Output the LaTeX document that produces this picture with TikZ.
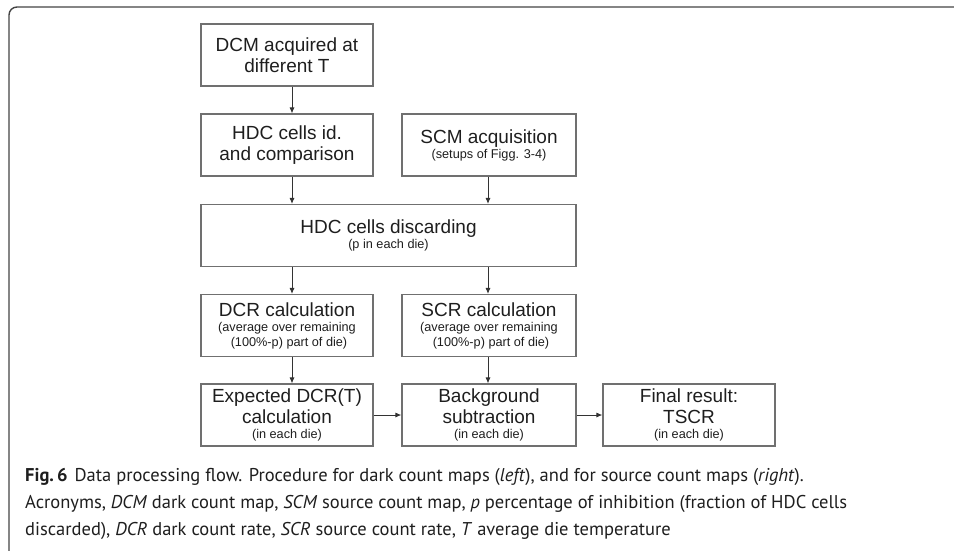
\documentclass[tikz,border=0pt]{standalone}
\usepackage{fontspec}
\setmainfont{Liberation Sans}
\newfontfamily\capfont{PT Sans}
\usetikzlibrary{arrows.meta}
\definecolor{boxgray}{HTML}{707070}
\definecolor{linegray}{HTML}{333333}
\definecolor{textgray}{HTML}{1E1E1E}
\definecolor{framegray}{HTML}{444444}
\newcommand\bigf{\fontsize{19}{22}\selectfont}
\newcommand\smallf{\fontsize{12.7}{14}\selectfont}
\tikzset{
  box/.style={draw=boxgray, line width=1.1pt, minimum width=172pt, minimum height=62pt,
    inner sep=0pt, align=center, text=textgray, font=\bigf},
  conn/.style={draw=linegray, line width=0.9pt, -{Latex[length=6pt,width=5pt]}},
  captext/.style={anchor=base west, inner sep=0pt, text=textgray, font=\capfont\fontsize{18.5}{22}\selectfont},
}
\begin{document}
\begin{tikzpicture}[x=1pt,y=-1pt]
\useasboundingbox (0,0) rectangle (954,550);
\draw[framegray, line width=1.4pt, rounded corners=8pt] (9,552) -- (9,7) -- (956,7);

\node[box] (b1) at (287,55) {DCM acquired at\\[-1pt]different T};
\node[box] (b2) at (287,145) {HDC cells id.\\[-1pt]and comparison};
\node[box, minimum width=174pt] (scm) at (489,145) {SCM acquisition\\[-7pt]{\smallf (setups of Figg. 3-4)}};
\node[box, minimum width=375pt] (disc) at (388.5,235.5) {HDC cells discarding\\[-7pt]{\smallf (p in each die)}};
\node[box] (dcr) at (287,325.5) {DCR calculation\\[-7pt]{\smallf (average over remaining}\\[-7pt]{\smallf \hspace{4pt}(100\%-p) part of die)}};
\node[box, minimum width=174pt] (scr) at (489,325.5) {SCR calculation\\[-7pt]{\smallf (average over remaining}\\[-7pt]{\smallf \hspace{4pt}(100\%-p) part of die)}};
\node[box] (exp) at (287,415) {Expected DCR(T)\\[-1pt]calculation\\[-7pt]{\smallf (in each die)}};
\node[box, minimum width=174pt] (bg) at (489,415) {Background\\[-1pt]subtraction\\[-7pt]{\smallf (in each die)}};
\node[box] (fin) at (689,415) {Final result:\\[-1pt]TSCR\\[-7pt]{\smallf (in each die)}};

\draw[conn] ([xshift=5pt]b1.south) -- ([xshift=5pt]b2.north);
\draw[conn] ([xshift=5pt]b2.south) -- ([xshift=5pt]b2.south |- disc.north);
\draw[conn] ([xshift=-1pt]scm.south) -- ([xshift=-1pt]scm.south |- disc.north);
\draw[conn] ([xshift=5pt]dcr.north |- disc.south) -- ([xshift=5pt]dcr.north);
\draw[conn] ([xshift=-1pt]scr.north |- disc.south) -- ([xshift=-1pt]scr.north);
\draw[conn] ([xshift=5pt]dcr.south) -- ([xshift=5pt]exp.north);
\draw[conn] ([xshift=-1pt]scr.south) -- ([xshift=-1pt]bg.north);
\draw[conn] (exp.east) -- (bg.west);
\draw[conn] (bg.east) -- (fin.west);

\node[captext] (cap1) at (25,481) {\textbf{Fig.\,6}\hspace{7pt}Data processing flow. Procedure for dark count maps (\textit{left}), and for source count maps (\textit{right}).};
\node[captext] (cap2) at (25,508) {Acronyms, \textit{DCM} dark count map, \textit{SCM} source count map, \textit{p} percentage of inhibition (fraction of HDC cells};
\node[captext] (cap3) at (25,535) {discarded), \textit{DCR} dark count rate, \textit{SCR} source count rate, \textit{T} average die temperature};
\end{tikzpicture}
\end{document}
